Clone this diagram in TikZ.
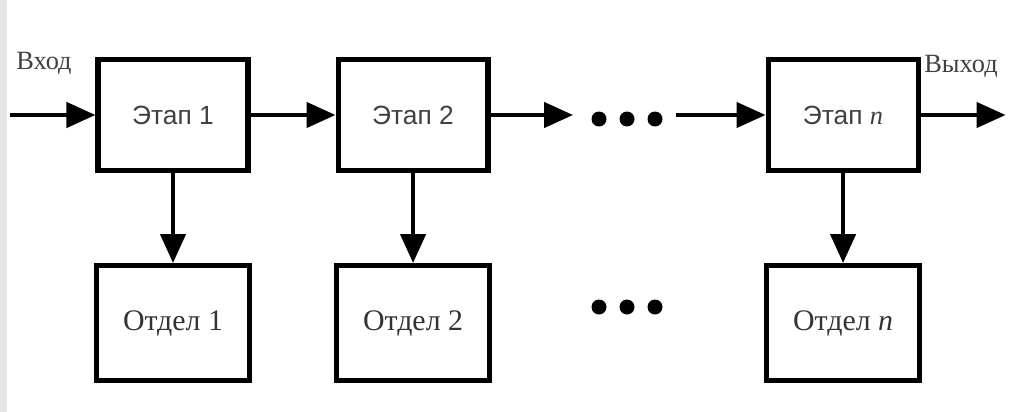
\documentclass[tikz,border=0pt]{standalone}
\usepackage{fontspec}
\setmainfont{Liberation Serif}
\newfontfamily\stagefont{Liberation Sans}
\usetikzlibrary{arrows.meta,positioning}

\begin{document}
\begin{tikzpicture}[
            x=0.02cm, y=-0.02cm,
            node distance=1.7cm,
            >={Triangle[length=5.8mm,width=5mm]},
            stage/.style={draw, line width=2.9pt, minimum width=3cm, minimum height=2.22cm,
                font=\stagefont\fontsize{15}{18}\selectfont, text=black!75},
            dept/.style={draw, line width=2.9pt, minimum width=3.05cm, minimum height=2.3cm,
                font=\fontsize{17}{20}\selectfont, text=black!80},
            lbl/.style={font=\fontsize{15}{18}\selectfont, text=black!75},
            flow/.style={->, line width=2.5pt}
        ]
        \useasboundingbox (0,0) rectangle (1017,412);
        \fill[black!10] (0,0) rectangle (7,412);
        % stages
        \node[stage] (st1) at (173,115) {Этап 1};
        \node[stage] (st2) [right=of st1] {Этап 2};
        \node[stage] (stn) [right=5.5cm of st2] {Этап {\rmfamily\itshape n}};
        % departments
        \node[dept] (dep1) [below=1.8cm of st1] {Отдел 1};
        \node[dept] (dep2) [below=1.8cm of st2] {Отдел 2};
        \node[dept] (depn) [below=1.8cm of stn] {Отдел {\itshape n}};
        % free ends
        \coordinate[left=of st1] (in);
        \coordinate[right=of stn] (out);
        \coordinate[right=1.65cm of st2] (gapin);
        \coordinate[left=1.8cm of stn] (gapout);
        \node[lbl] (inlbl) at (44,63) {Вход};
        \node[lbl] (outlbl) at (961,66) {Выход};
        \foreach \px in {599,627,655} {
            \fill (\px,119) circle (0.15cm);
            \fill (\px,307) circle (0.15cm);
        }
        \path[flow]
            (in) edge (st1)
            (st1) edge (st2)
            (st2) edge (gapin)
            (gapout) edge (stn)
            (stn) edge (out)
            (st1) edge (dep1)
            (st2) edge (dep2)
            (stn) edge (depn);
        \end{tikzpicture}
\end{document}
